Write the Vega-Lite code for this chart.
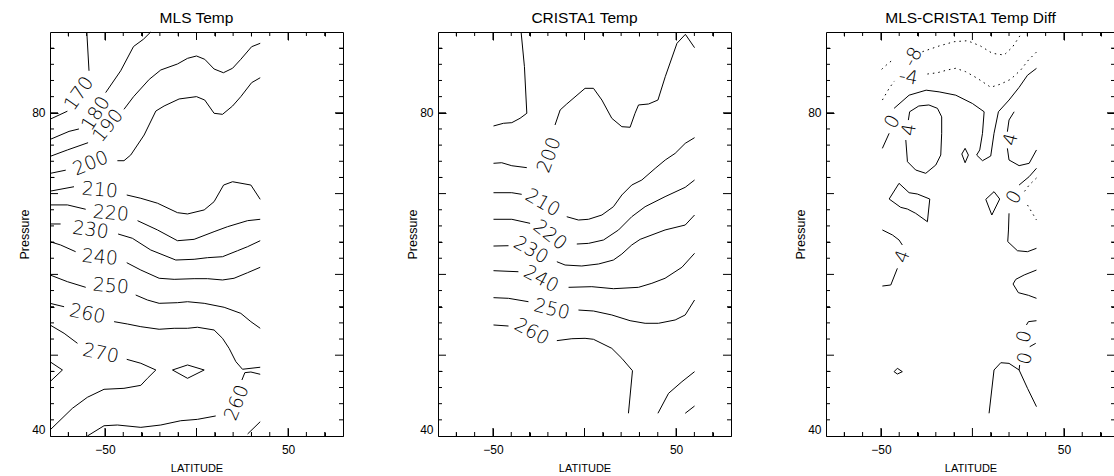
{
"$schema": "https://vega.github.io/schema/vega-lite/v6.json",
"autosize": {"type": "pad"},
"padding": {"left": 18, "top": 10, "right": 0, "bottom": 0},
"background": "white",
"bounds": "flush",
"spacing": 95,
"config": {
  "view": {"stroke": "black", "strokeWidth": 1},
  "font": "Liberation Sans",
  "title": {"font": "Liberation Sans", "fontSize": 15.5, "fontWeight": "normal", "color": "black", "offset": 4, "anchor": "middle", "frame": "group"},
  "axis": {"grid": false, "domain": false, "ticks": false, "labelOverlap": false, "gridColor": "black", "gridOpacity": 1, "gridWidth": 1, "labelFont": "Liberation Sans", "labelFontSize": 12, "labelColor": "black", "titleFont": "Liberation Sans", "titleFontWeight": "normal", "titleColor": "black"},
  "rule": {"color": "black", "strokeWidth": 1, "opacity": 1}
},
"datasets": {
  "xmajor": [{"v":-50},{"v":0},{"v":50}],
  "xminor": [{"v":-70},{"v":-60},{"v":-40},{"v":-30},{"v":-20},{"v":-10},{"v":10},{"v":20},{"v":30},{"v":40},{"v":60},{"v":70}],
  "ymajor": [{"v":50},{"v":60},{"v":70},{"v":80}],
  "yminor": [{"v":42},{"v":44},{"v":46},{"v":48},{"v":52},{"v":54},{"v":56},{"v":58},{"v":62},{"v":64},{"v":66},{"v":68},{"v":72},{"v":74},{"v":76},{"v":78},{"v":82},{"v":84},{"v":86},{"v":88}],
  "mls": [
    {"seg":"a","lat":-80,"p":79.2},{"seg":"a","lat":-70.5,"p":80.2},
    {"seg":"b","lat":-58.7,"p":85.2},{"seg":"b","lat":-59.9,"p":90},
    {"seg":"c","lat":-80,"p":76.7},{"seg":"c","lat":-69.6,"p":77.7},{"seg":"c","lat":-64.2,"p":78.0},
    {"seg":"d","lat":-49.6,"p":82.5},{"seg":"d","lat":-41.4,"p":85.2},{"seg":"d","lat":-34.4,"p":88.2},{"seg":"d","lat":-29.0,"p":89.1},{"seg":"d","lat":-25.0,"p":90},
    {"seg":"e","lat":-80,"p":74.6},{"seg":"e","lat":-70.5,"p":75.4},{"seg":"e","lat":-59.2,"p":76.3},
    {"seg":"f","lat":-39.6,"p":80.43},{"seg":"f","lat":-34.4,"p":81.99},{"seg":"f","lat":-25.8,"p":84.14},{"seg":"f","lat":-19.5,"p":85.3},{"seg":"f","lat":-10.4,"p":86.04},{"seg":"f","lat":-4.9,"p":86.74},{"seg":"f","lat":0,"p":87.03},{"seg":"f","lat":4.5,"p":86.62},{"seg":"f","lat":9.6,"p":85.42},{"seg":"f","lat":14.7,"p":84.96},{"seg":"f","lat":19.7,"p":85.51},{"seg":"f","lat":24.2,"p":86.62},{"seg":"f","lat":30.1,"p":88.18},{"seg":"f","lat":34.8,"p":88.6},
    {"seg":"g","lat":-80,"p":72.5},{"seg":"g","lat":-71.4,"p":72.9},
    {"seg":"h","lat":-43.2,"p":74.07},{"seg":"h","lat":-39.6,"p":74.07},{"seg":"h","lat":-35.9,"p":74.78},{"seg":"h","lat":-28.6,"p":77.25},{"seg":"h","lat":-22.2,"p":80.22},{"seg":"h","lat":-17.7,"p":80.84},{"seg":"h","lat":-9.5,"p":81.71},{"seg":"h","lat":0,"p":82.0},{"seg":"h","lat":4.5,"p":81.58},{"seg":"h","lat":9.6,"p":79.94},{"seg":"h","lat":14.2,"p":79.81},{"seg":"h","lat":19.7,"p":80.84},{"seg":"h","lat":24.2,"p":82.0},{"seg":"h","lat":30.1,"p":83.73},{"seg":"h","lat":34.8,"p":84.34},
    {"seg":"i","lat":-80,"p":70.3},{"seg":"i","lat":-66.9,"p":70.85},
    {"seg":"j","lat":-38.1,"p":69.83},{"seg":"j","lat":-30.4,"p":69.42},{"seg":"j","lat":-21.3,"p":68.81},{"seg":"j","lat":-10.4,"p":67.64},{"seg":"j","lat":-4.9,"p":67.48},{"seg":"j","lat":4.2,"p":67.98},{"seg":"j","lat":9.6,"p":69.0},{"seg":"j","lat":14.8,"p":71.06},{"seg":"j","lat":19.7,"p":71.47},{"seg":"j","lat":29.7,"p":71.06},{"seg":"j","lat":34.8,"p":69.29},
    {"seg":"k","lat":-80,"p":68.6},{"seg":"k","lat":-70.5,"p":68.6},{"seg":"k","lat":-60.5,"p":68.06},
    {"seg":"l","lat":-32.2,"p":66.65},{"seg":"l","lat":-21.3,"p":65.5},{"seg":"l","lat":-10.4,"p":64.17},{"seg":"l","lat":-1.3,"p":64.34},{"seg":"l","lat":9.6,"p":65.29},{"seg":"l","lat":16.9,"p":65.9},{"seg":"l","lat":27.9,"p":66.65},{"seg":"l","lat":34.8,"p":66.82},
    {"seg":"m","lat":-80,"p":66.24},{"seg":"m","lat":-74.2,"p":66.24},
    {"seg":"n","lat":-42.8,"p":65.0},{"seg":"n","lat":-35.0,"p":64.47},{"seg":"n","lat":-25.0,"p":63.02},{"seg":"n","lat":-11.3,"p":61.78},{"seg":"n","lat":-1.3,"p":61.87},{"seg":"n","lat":6.0,"p":62.07},{"seg":"n","lat":14.2,"p":62.19},{"seg":"n","lat":22.4,"p":62.93},{"seg":"n","lat":27.9,"p":63.43},{"seg":"n","lat":34.8,"p":64.17},
    {"seg":"o","lat":-80,"p":64.05},{"seg":"o","lat":-74.2,"p":63.64},{"seg":"o","lat":-66.0,"p":62.81},
    {"seg":"q","lat":-38.1,"p":61.45},{"seg":"q","lat":-30.4,"p":60.54},{"seg":"q","lat":-20.4,"p":59.52},{"seg":"q","lat":-12.2,"p":59.39},{"seg":"q","lat":-1.3,"p":59.47},{"seg":"q","lat":6.0,"p":59.47},{"seg":"q","lat":14.2,"p":59.31},{"seg":"q","lat":20.5,"p":59.52},{"seg":"q","lat":27.9,"p":60.21},{"seg":"q","lat":34.8,"p":60.88},
    {"seg":"r","lat":-80,"p":59.93},{"seg":"r","lat":-70.5,"p":59.1},{"seg":"r","lat":-60.5,"p":58.4},
    {"seg":"t","lat":-33.2,"p":57.45},{"seg":"t","lat":-26.8,"p":56.83},{"seg":"t","lat":-20.4,"p":56.42},{"seg":"t","lat":-10.4,"p":56.5},{"seg":"t","lat":-4.9,"p":56.62},{"seg":"t","lat":4.2,"p":56.42},{"seg":"t","lat":15.1,"p":55.93},{"seg":"t","lat":24.2,"p":55.18},{"seg":"t","lat":29.7,"p":54.15},{"seg":"t","lat":34.8,"p":53.33},
    {"seg":"u","lat":-80,"p":56.42},{"seg":"u","lat":-72.3,"p":56.0},
    {"seg":"v","lat":-45.0,"p":54.15},{"seg":"v","lat":-37.7,"p":53.86},{"seg":"v","lat":-30.4,"p":53.53},{"seg":"v","lat":-20.4,"p":53.21},{"seg":"v","lat":-12.2,"p":53.33},{"seg":"v","lat":-4.9,"p":53.33},{"seg":"v","lat":0.5,"p":53.46},{"seg":"v","lat":9.6,"p":53.12},{"seg":"v","lat":14.2,"p":52.09},{"seg":"v","lat":17.8,"p":50.85},{"seg":"v","lat":21.5,"p":49.2},{"seg":"v","lat":25.1,"p":48.26},{"seg":"v","lat":34.8,"p":48.51},
    {"seg":"w","lat":-80,"p":53.74},{"seg":"w","lat":-72.3,"p":52.71},{"seg":"w","lat":-65.0,"p":51.47},
    {"seg":"x","lat":-38.1,"p":49.49},{"seg":"x","lat":-30.4,"p":49.0},{"seg":"x","lat":-22.2,"p":48.17},{"seg":"x","lat":-26.8,"p":47.14},{"seg":"x","lat":-30.4,"p":46.27},{"seg":"x","lat":-39.6,"p":45.9},{"seg":"x","lat":-50.5,"p":45.78},{"seg":"x","lat":-59.6,"p":44.79},{"seg":"x","lat":-67.8,"p":43.42},{"seg":"x","lat":-80,"p":40.74},
    {"seg":"y","lat":-80,"p":49.19},{"seg":"y","lat":-73.2,"p":48.17},{"seg":"y","lat":-80,"p":46.72},
    {"seg":"z","lat":-13.1,"p":48.17},{"seg":"z","lat":-4.9,"p":48.79},{"seg":"z","lat":4.2,"p":48.17},{"seg":"z","lat":-4.9,"p":47.14},{"seg":"z","lat":-13.1,"p":48.17},
    {"seg":"a2","lat":-59.6,"p":40.0},{"seg":"a2","lat":-50.5,"p":41.27},{"seg":"a2","lat":-43.2,"p":41.36},{"seg":"a2","lat":-30.4,"p":41.07},{"seg":"a2","lat":-19.5,"p":41.36},{"seg":"a2","lat":-8.6,"p":41.89},{"seg":"a2","lat":0.5,"p":42.06},{"seg":"a2","lat":10.5,"p":42.48},
    {"seg":"b2","lat":24.8,"p":46.93},{"seg":"b2","lat":26.4,"p":47.84},{"seg":"b2","lat":29.7,"p":47.92},{"seg":"b2","lat":34.8,"p":47.64},
    {"seg":"c2","lat":27.9,"p":40.25},{"seg":"c2","lat":34.8,"p":41.77}
  ],
  "mlsLabels": [
    {"label":"170","lat":-64.2,"p":82.4,"rot":-55},
    {"label":"180","lat":-55.0,"p":79.9,"rot":-57},
    {"label":"190","lat":-48.3,"p":78.4,"rot":-51},
    {"label":"200","lat":-57.8,"p":73.75,"rot":-22},
    {"label":"210","lat":-52.8,"p":70.44,"rot":5},
    {"label":"220","lat":-46.8,"p":67.56,"rot":5},
    {"label":"230","lat":-57.8,"p":65.5,"rot":8},
    {"label":"240","lat":-52.8,"p":62.11,"rot":5},
    {"label":"250","lat":-46.8,"p":58.56,"rot":5},
    {"label":"260","lat":-59.6,"p":55.1,"rot":12},
    {"label":"270","lat":-52.3,"p":50.23,"rot":12},
    {"label":"260","lat":22.0,"p":44.12,"rot":-68}
  ],
  "crista": [
    {"seg":"a","lat":-49.7,"p":78.37},{"seg":"a","lat":-44.3,"p":78.7},{"seg":"a","lat":-39.7,"p":78.78},{"seg":"a","lat":-35.2,"p":79.32},{"seg":"a","lat":-31.5,"p":79.94},{"seg":"a","lat":-32.8,"p":85.71},{"seg":"a","lat":-34.6,"p":89.96},
    {"seg":"b","lat":-49.7,"p":73.75},{"seg":"b","lat":-45.2,"p":73.82},{"seg":"b","lat":-39.7,"p":73.45},{"seg":"b","lat":-31.5,"p":73.21},
    {"seg":"c","lat":-16.1,"p":78.49},{"seg":"c","lat":-13.3,"p":80.35},{"seg":"c","lat":-9.7,"p":81.09},{"seg":"c","lat":0.3,"p":83.03},{"seg":"c","lat":4.9,"p":83.03},{"seg":"c","lat":9.5,"p":81.58},{"seg":"c","lat":14.9,"p":79.32},{"seg":"c","lat":20.4,"p":78.28},{"seg":"c","lat":24.9,"p":78.21},{"seg":"c","lat":27.6,"p":79.94},{"seg":"c","lat":29.5,"p":80.97},{"seg":"c","lat":35.0,"p":81.09},{"seg":"c","lat":40.1,"p":81.58},{"seg":"c","lat":44.1,"p":84.47},{"seg":"c","lat":50.5,"p":88.6},{"seg":"c","lat":55.1,"p":89.71},{"seg":"c","lat":60.1,"p":88.06},
    {"seg":"d","lat":-49.7,"p":70.11},{"seg":"d","lat":-39.7,"p":70.11},{"seg":"d","lat":-34.3,"p":69.91},
    {"seg":"e","lat":-9.7,"p":67.14},{"seg":"e","lat":-3.3,"p":66.73},{"seg":"e","lat":2.2,"p":66.82},{"seg":"e","lat":9.5,"p":67.35},{"seg":"e","lat":15.8,"p":68.38},{"seg":"e","lat":20.4,"p":69.83},{"seg":"e","lat":25.8,"p":71.06},{"seg":"e","lat":31.3,"p":71.68},{"seg":"e","lat":38.6,"p":73.12},{"seg":"e","lat":44.1,"p":74.16},{"seg":"e","lat":49.5,"p":74.98},{"seg":"e","lat":55.0,"p":76.22},{"seg":"e","lat":60.1,"p":76.92},
    {"seg":"f","lat":-49.7,"p":66.82},{"seg":"f","lat":-39.7,"p":66.82},{"seg":"f","lat":-29.7,"p":66.32},
    {"seg":"g","lat":-4.2,"p":63.76},{"seg":"g","lat":2.2,"p":63.84},{"seg":"g","lat":10.4,"p":64.26},{"seg":"g","lat":18.6,"p":65.5},{"seg":"g","lat":25.8,"p":67.14},{"seg":"g","lat":33.1,"p":68.38},{"seg":"g","lat":44.0,"p":69.62},{"seg":"g","lat":55.0,"p":70.78},{"seg":"g","lat":60.1,"p":71.68},
    {"seg":"h","lat":-49.7,"p":63.51},{"seg":"h","lat":-41.5,"p":63.55},
    {"seg":"i","lat":-15.1,"p":61.57},{"seg":"i","lat":-10.6,"p":61.16},{"seg":"i","lat":-1.5,"p":61.04},{"seg":"i","lat":7.7,"p":61.29},{"seg":"i","lat":15.8,"p":61.78},{"seg":"i","lat":20.4,"p":62.52},{"seg":"i","lat":25.8,"p":63.64},{"seg":"i","lat":30.4,"p":64.34},{"seg":"i","lat":44.0,"p":65.5},{"seg":"i","lat":55.0,"p":66.11},{"seg":"i","lat":60.1,"p":67.35},
    {"seg":"j","lat":-49.7,"p":60.46},{"seg":"j","lat":-36.1,"p":60.33},
    {"seg":"k","lat":-8.7,"p":58.4},{"seg":"k","lat":4.0,"p":58.48},{"seg":"k","lat":15.8,"p":58.23},{"seg":"k","lat":29.5,"p":58.4},{"seg":"k","lat":36.8,"p":58.9},{"seg":"k","lat":44.0,"p":59.52},{"seg":"k","lat":53.2,"p":60.88},{"seg":"k","lat":60.1,"p":62.61},
    {"seg":"l","lat":-49.7,"p":57.12},{"seg":"l","lat":-41.5,"p":57.04},{"seg":"l","lat":-30.6,"p":56.62},
    {"seg":"m","lat":-3.3,"p":55.59},{"seg":"m","lat":4.9,"p":55.47},{"seg":"m","lat":14.9,"p":54.98},{"seg":"m","lat":24.9,"p":54.27},{"seg":"m","lat":33.1,"p":53.95},{"seg":"m","lat":40.4,"p":53.95},{"seg":"m","lat":49.5,"p":54.36},{"seg":"m","lat":55.0,"p":54.98},{"seg":"m","lat":60.1,"p":56.83},
    {"seg":"n","lat":-49.7,"p":53.74},{"seg":"n","lat":-41.5,"p":53.61},
    {"seg":"o","lat":-15.1,"p":51.8},{"seg":"o","lat":-6.9,"p":52.04},{"seg":"o","lat":0.3,"p":52.09},{"seg":"o","lat":4.9,"p":51.97},{"seg":"o","lat":14.9,"p":50.85},{"seg":"o","lat":20.4,"p":49.61},{"seg":"o","lat":26.2,"p":48.08},{"seg":"o","lat":24.0,"p":42.81},
    {"seg":"q","lat":40.1,"p":42.81},{"seg":"q","lat":45.9,"p":45.28},{"seg":"q","lat":53.2,"p":46.72},{"seg":"q","lat":60.1,"p":47.96},
    {"seg":"r","lat":55.0,"p":42.81},{"seg":"r","lat":60.1,"p":43.71}
  ],
  "cristaLabels": [
    {"label":"200","lat":-19.3,"p":74.78,"rot":-70},
    {"label":"210","lat":-22.8,"p":68.87,"rot":30},
    {"label":"220","lat":-18.8,"p":64.88,"rot":38},
    {"label":"230","lat":-29.2,"p":63.02,"rot":30},
    {"label":"240","lat":-23.7,"p":59.43,"rot":28},
    {"label":"250","lat":-17.9,"p":55.68,"rot":14},
    {"label":"260","lat":-28.8,"p":52.91,"rot":28}
  ],
  "diff": [
    {"seg":"a","lat":-42.8,"p":80.55},{"seg":"a","lat":-34.6,"p":82.18},{"seg":"a","lat":-25.3,"p":82.8},{"seg":"a","lat":-18.2,"p":82.59},{"seg":"a","lat":-9.1,"p":82.18},{"seg":"a","lat":0,"p":81.15},{"seg":"a","lat":6.4,"p":80.13},{"seg":"a","lat":5.5,"p":77.46},{"seg":"a","lat":4.0,"p":75.4},{"seg":"a","lat":2.3,"p":74.77},{"seg":"a","lat":5.5,"p":74.07},{"seg":"a","lat":10.0,"p":74.65},{"seg":"a","lat":11.8,"p":77.46},{"seg":"a","lat":14.2,"p":80.13},{"seg":"a","lat":20.0,"p":81.58},{"seg":"a","lat":25.5,"p":83.15},{"seg":"a","lat":30.1,"p":84.65},{"seg":"a","lat":35.0,"p":85.5},
    {"seg":"b","lat":-45.5,"p":77.46},{"seg":"b","lat":-49.2,"p":75.6},
    {"seg":"c","lat":-35.0,"p":79.1},{"seg":"c","lat":-34.3,"p":80.13},{"seg":"c","lat":-29.3,"p":80.84},{"seg":"c","lat":-23.8,"p":80.97},{"seg":"c","lat":-19.1,"p":80.55},{"seg":"c","lat":-16.8,"p":79.5},{"seg":"c","lat":-16.8,"p":77.46},{"seg":"c","lat":-17.3,"p":74.77},{"seg":"c","lat":-20.0,"p":73.54},{"seg":"c","lat":-25.5,"p":72.51},{"seg":"c","lat":-31.0,"p":72.92},{"seg":"c","lat":-35.5,"p":73.95},{"seg":"c","lat":-36.4,"p":76.63},
    {"seg":"d","lat":22.8,"p":80.13},{"seg":"d","lat":20.0,"p":79.11},{"seg":"d","lat":19.1,"p":77.66},
    {"seg":"e","lat":19.1,"p":75.6},{"seg":"e","lat":20.0,"p":74.16},{"seg":"e","lat":25.5,"p":73.46},{"seg":"e","lat":31.0,"p":73.75},{"seg":"e","lat":35.0,"p":75.4},
    {"seg":"f","lat":-4.0,"p":75.6},{"seg":"f","lat":-2.2,"p":74.77},{"seg":"f","lat":-4.0,"p":73.82},{"seg":"f","lat":-5.8,"p":74.9},{"seg":"f","lat":-4.0,"p":75.6},
    {"seg":"g","lat":-40.1,"p":71.27},{"seg":"g","lat":-34.6,"p":70.11},{"seg":"g","lat":-30.1,"p":69.95},{"seg":"g","lat":-23.3,"p":69.33},{"seg":"g","lat":-24.6,"p":66.52},{"seg":"g","lat":-31.0,"p":67.56},{"seg":"g","lat":-35.5,"p":68.09},{"seg":"g","lat":-39.2,"p":68.3},{"seg":"g","lat":-45.5,"p":69.33},{"seg":"g","lat":-40.1,"p":71.27},
    {"seg":"h","lat":11.8,"p":70.24},{"seg":"h","lat":14.9,"p":69.33},{"seg":"h","lat":10.6,"p":67.35},{"seg":"h","lat":7.3,"p":69.29},{"seg":"h","lat":11.8,"p":70.24},
    {"seg":"i","lat":25.5,"p":71.06},{"seg":"i","lat":31.0,"p":72.1},{"seg":"i","lat":35.0,"p":73.13},
    {"seg":"j","lat":20.0,"p":67.56},{"seg":"j","lat":19.7,"p":65.5},{"seg":"j","lat":19.3,"p":64.06},{"seg":"j","lat":24.6,"p":62.93},{"seg":"j","lat":30.1,"p":62.81},{"seg":"j","lat":35.0,"p":63.23},
    {"seg":"k","lat":-49.2,"p":65.5},{"seg":"k","lat":-43.7,"p":64.88},{"seg":"k","lat":-40.1,"p":64.26},{"seg":"k","lat":-38.3,"p":63.64},
    {"seg":"l","lat":-41.0,"p":60.75},{"seg":"l","lat":-44.6,"p":58.69},{"seg":"l","lat":-49.2,"p":58.56},
    {"seg":"m","lat":35.0,"p":60.54},{"seg":"m","lat":28.3,"p":59.93},{"seg":"m","lat":23.7,"p":59.39},{"seg":"m","lat":22.2,"p":58.81},{"seg":"m","lat":25.1,"p":57.74},{"seg":"m","lat":30.6,"p":57.41},{"seg":"m","lat":35.0,"p":57.04},
    {"seg":"n","lat":35.0,"p":54.27},{"seg":"n","lat":30.6,"p":54.15},{"seg":"n","lat":29.5,"p":53.74},
    {"seg":"o","lat":34.6,"p":51.47},{"seg":"o","lat":31.3,"p":51.05},
    {"seg":"pp","lat":25.8,"p":48.79},{"seg":"pp","lat":25.5,"p":48.17},{"seg":"pp","lat":20.0,"p":48.99},{"seg":"pp","lat":15.5,"p":49.07},{"seg":"pp","lat":11.8,"p":48.17},{"seg":"pp","lat":9.1,"p":42.81},
    {"seg":"q","lat":25.5,"p":48.17},{"seg":"q","lat":30.1,"p":45.9},{"seg":"q","lat":35.0,"p":43.63},
    {"seg":"r","lat":-41.0,"p":48.38},{"seg":"r","lat":-38.3,"p":47.96},{"seg":"r","lat":-41.0,"p":47.67},{"seg":"r","lat":-42.8,"p":47.96},{"seg":"r","lat":-41.0,"p":48.38}
  ],
  "diffNeg": [
    {"seg":"da","lat":-49.6,"p":85.38},{"seg":"da","lat":-46.4,"p":86.04},{"seg":"da","lat":-44.1,"p":86.45},
    {"seg":"db","lat":-27.3,"p":87.56},{"seg":"db","lat":-18.2,"p":88.27},{"seg":"db","lat":-10.0,"p":88.8},{"seg":"db","lat":-2.7,"p":88.92},{"seg":"db","lat":4.4,"p":88.27},{"seg":"db","lat":10.9,"p":87.36},{"seg":"db","lat":17.3,"p":87.15},{"seg":"db","lat":21.9,"p":88.14},{"seg":"db","lat":25.5,"p":89.38},{"seg":"db","lat":27.3,"p":90},
    {"seg":"dc","lat":-49.2,"p":81.58},{"seg":"dc","lat":-45.5,"p":83.03},{"seg":"dc","lat":-42.6,"p":83.94},
    {"seg":"dd","lat":-24.6,"p":84.8},{"seg":"dd","lat":-19.1,"p":84.96},{"seg":"dd","lat":-13.7,"p":85.3},{"seg":"dd","lat":-9.1,"p":85.51},{"seg":"dd","lat":-3.7,"p":85.09},{"seg":"dd","lat":2.7,"p":84.27},{"seg":"dd","lat":10.0,"p":83.16},{"seg":"dd","lat":15.5,"p":83.56},{"seg":"dd","lat":20.9,"p":84.15},{"seg":"dd","lat":26.4,"p":85.3},{"seg":"dd","lat":30.6,"p":86.53},{"seg":"dd","lat":35.0,"p":87.52},
    {"seg":"de","lat":35.0,"p":71.93},{"seg":"de","lat":31.0,"p":71.06},{"seg":"de","lat":27.9,"p":70.1},
    {"seg":"df","lat":30.1,"p":68.59},{"seg":"df","lat":32.8,"p":67.56},{"seg":"df","lat":35.0,"p":66.73}
  ],
  "diffLabels": [
    {"label":"-8","lat":-32.5,"p":86.9,"rot":-60},
    {"label":"-4","lat":-35.0,"p":84.4,"rot":10},
    {"label":"0","lat":-43.7,"p":78.9,"rot":-60},
    {"label":"4","lat":-34.6,"p":77.9,"rot":-80},
    {"label":"4","lat":20.9,"p":76.7,"rot":-75},
    {"label":"0","lat":22.8,"p":69.54,"rot":-60},
    {"label":"4","lat":-38.3,"p":62.2,"rot":-70},
    {"label":"0","lat":28.3,"p":52.29,"rot":-75},
    {"label":"0","lat":28.8,"p":49.62,"rot":-75}
  ]
},
"hconcat": [
  {
    "title": {"text": "MLS Temp", "fontWeight": "normal"},
    "width": 293, "height": 404,
    "layer": [
      {"data": {"name": "mls"},
       "mark": {"type": "line", "color": "black", "strokeWidth": 1},
       "encoding": {
         "x": {"field": "lat", "type": "quantitative", "scale": {"domain": [-80, 80], "nice": false, "zero": false},
               "axis": {"orient": "bottom", "values": [-70,-60,-50,-40,-30,-20,-10,0,10,20,30,40,50,60,70], "labelExpr": "datum.value % 50 === 0 ? datum.label : ''", "labelOverlap": false, "grid": true, "gridDash": {"condition": {"test": "datum.value % 50 === 0", "value": [8, 388, 8, 0]}, "value": [4, 396, 4, 0]}, "labelPadding": 8, "labelFlush": false, "title": "LATITUDE", "titleFontSize": 11, "titleFontWeight": "normal", "titlePadding": 7}},
         "y": {"field": "p", "type": "quantitative", "scale": {"domain": [40, 90], "nice": false, "zero": false},
               "axis": {"orient": "left", "values": [40,42,44,46,48,50,52,54,56,58,60,62,64,66,68,70,72,74,76,78,80,82,84,86,88,90], "labelExpr": "datum.value % 10 === 0 ? datum.label : ''", "labelOverlap": false, "grid": true, "gridDash": {"condition": {"test": "datum.value % 10 === 0", "value": [8, 277, 8, 0]}, "value": [4, 285, 4, 0]}, "labelPadding": 5, "labelFlush": true, "title": "Pressure", "titleFontSize": 12.5, "titleFontWeight": "normal", "titlePadding": 0}},
         "detail": {"field": "seg"},
         "order": {"value": null}
       }},
      {"data": {"name": "mlsLabels"},
       "mark": {"type": "text", "font": "DejaVu Sans", "fontSize": 19, "fontWeight": 200, "color": "black", "align": "center", "baseline": "middle"},
       "encoding": {
         "x": {"field": "lat", "type": "quantitative"},
         "y": {"field": "p", "type": "quantitative"},
         "text": {"field": "label"},
         "angle": {"field": "rot", "type": "quantitative", "scale": null}
       }},
      {"data": {"name": "xmajor"}, "mark": "rule", "encoding": {"x": {"field": "v", "type": "quantitative"}, "y": {"datum": 40}, "y2": {"datum": 40.99}}},
      {"data": {"name": "xminor"}, "mark": "rule", "encoding": {"x": {"field": "v", "type": "quantitative"}, "y": {"datum": 40}, "y2": {"datum": 40.495}}},
      {"data": {"name": "xmajor"}, "mark": "rule", "encoding": {"x": {"field": "v", "type": "quantitative"}, "y": {"datum": 90}, "y2": {"datum": 89.01}}},
      {"data": {"name": "xminor"}, "mark": "rule", "encoding": {"x": {"field": "v", "type": "quantitative"}, "y": {"datum": 90}, "y2": {"datum": 89.505}}},
      {"data": {"name": "ymajor"}, "mark": "rule", "encoding": {"y": {"field": "v", "type": "quantitative"}, "x": {"datum": -80}, "x2": {"datum": -75.63}}},
      {"data": {"name": "yminor"}, "mark": "rule", "encoding": {"y": {"field": "v", "type": "quantitative"}, "x": {"datum": -80}, "x2": {"datum": -77.82}}},
      {"data": {"name": "ymajor"}, "mark": "rule", "encoding": {"y": {"field": "v", "type": "quantitative"}, "x": {"datum": 80}, "x2": {"datum": 75.63}}},
      {"data": {"name": "yminor"}, "mark": "rule", "encoding": {"y": {"field": "v", "type": "quantitative"}, "x": {"datum": 80}, "x2": {"datum": 77.82}}}
    ]
  },
  {
    "title": {"text": "CRISTA1 Temp", "fontWeight": "normal"},
    "width": 293, "height": 404,
    "layer": [
      {"data": {"name": "crista"},
       "mark": {"type": "line", "color": "black", "strokeWidth": 1},
       "encoding": {
         "x": {"field": "lat", "type": "quantitative", "scale": {"domain": [-80, 80], "nice": false, "zero": false},
               "axis": {"orient": "bottom", "values": [-70,-60,-50,-40,-30,-20,-10,0,10,20,30,40,50,60,70], "labelExpr": "datum.value % 50 === 0 ? datum.label : ''", "labelOverlap": false, "grid": true, "gridDash": {"condition": {"test": "datum.value % 50 === 0", "value": [8, 388, 8, 0]}, "value": [4, 396, 4, 0]}, "labelPadding": 8, "labelFlush": false, "title": "LATITUDE", "titleFontSize": 11, "titleFontWeight": "normal", "titlePadding": 7}},
         "y": {"field": "p", "type": "quantitative", "scale": {"domain": [40, 90], "nice": false, "zero": false},
               "axis": {"orient": "left", "values": [40,42,44,46,48,50,52,54,56,58,60,62,64,66,68,70,72,74,76,78,80,82,84,86,88,90], "labelExpr": "datum.value % 10 === 0 ? datum.label : ''", "labelOverlap": false, "grid": true, "gridDash": {"condition": {"test": "datum.value % 10 === 0", "value": [8, 277, 8, 0]}, "value": [4, 285, 4, 0]}, "labelPadding": 5, "labelFlush": true, "title": "Pressure", "titleFontSize": 12.5, "titleFontWeight": "normal", "titlePadding": 0}},
         "detail": {"field": "seg"},
         "order": {"value": null}
       }},
      {"data": {"name": "cristaLabels"},
       "mark": {"type": "text", "font": "DejaVu Sans", "fontSize": 19, "fontWeight": 200, "color": "black", "align": "center", "baseline": "middle"},
       "encoding": {
         "x": {"field": "lat", "type": "quantitative"},
         "y": {"field": "p", "type": "quantitative"},
         "text": {"field": "label"},
         "angle": {"field": "rot", "type": "quantitative", "scale": null}
       }},
      {"data": {"name": "xmajor"}, "mark": "rule", "encoding": {"x": {"field": "v", "type": "quantitative"}, "y": {"datum": 40}, "y2": {"datum": 40.99}}},
      {"data": {"name": "xminor"}, "mark": "rule", "encoding": {"x": {"field": "v", "type": "quantitative"}, "y": {"datum": 40}, "y2": {"datum": 40.495}}},
      {"data": {"name": "xmajor"}, "mark": "rule", "encoding": {"x": {"field": "v", "type": "quantitative"}, "y": {"datum": 90}, "y2": {"datum": 89.01}}},
      {"data": {"name": "xminor"}, "mark": "rule", "encoding": {"x": {"field": "v", "type": "quantitative"}, "y": {"datum": 90}, "y2": {"datum": 89.505}}},
      {"data": {"name": "ymajor"}, "mark": "rule", "encoding": {"y": {"field": "v", "type": "quantitative"}, "x": {"datum": -80}, "x2": {"datum": -75.63}}},
      {"data": {"name": "yminor"}, "mark": "rule", "encoding": {"y": {"field": "v", "type": "quantitative"}, "x": {"datum": -80}, "x2": {"datum": -77.82}}},
      {"data": {"name": "ymajor"}, "mark": "rule", "encoding": {"y": {"field": "v", "type": "quantitative"}, "x": {"datum": 80}, "x2": {"datum": 75.63}}},
      {"data": {"name": "yminor"}, "mark": "rule", "encoding": {"y": {"field": "v", "type": "quantitative"}, "x": {"datum": 80}, "x2": {"datum": 77.82}}}
    ]
  },
  {
    "title": {"text": "MLS-CRISTA1 Temp Diff", "fontWeight": "normal"},
    "width": 289, "height": 404,
    "layer": [
      {"data": {"name": "diff"},
       "mark": {"type": "line", "color": "black", "strokeWidth": 1},
       "encoding": {
         "x": {"field": "lat", "type": "quantitative", "scale": {"domain": [-80, 77.9], "nice": false, "zero": false},
               "axis": {"orient": "bottom", "values": [-70,-60,-50,-40,-30,-20,-10,0,10,20,30,40,50,60,70], "labelExpr": "datum.value % 50 === 0 ? datum.label : ''", "labelOverlap": false, "grid": true, "gridDash": {"condition": {"test": "datum.value % 50 === 0", "value": [8, 388, 8, 0]}, "value": [4, 396, 4, 0]}, "labelPadding": 8, "labelFlush": false, "title": "LATITUDE", "titleFontSize": 11, "titleFontWeight": "normal", "titlePadding": 7}},
         "y": {"field": "p", "type": "quantitative", "scale": {"domain": [40, 90], "nice": false, "zero": false},
               "axis": {"orient": "left", "values": [40,42,44,46,48,50,52,54,56,58,60,62,64,66,68,70,72,74,76,78,80,82,84,86,88,90], "labelExpr": "datum.value % 10 === 0 ? datum.label : ''", "labelOverlap": false, "grid": true, "gridDash": {"condition": {"test": "datum.value % 10 === 0", "value": [8, 273, 8, 0]}, "value": [4, 281, 4, 0]}, "labelPadding": 5, "labelFlush": true, "title": "Pressure", "titleFontSize": 12.5, "titleFontWeight": "normal", "titlePadding": 0}},
         "detail": {"field": "seg"},
         "order": {"value": null}
       }},
      {"data": {"name": "diffNeg"},
       "mark": {"type": "line", "color": "black", "strokeWidth": 1, "strokeDash": [1.5, 4]},
       "encoding": {
         "x": {"field": "lat", "type": "quantitative"},
         "y": {"field": "p", "type": "quantitative"},
         "detail": {"field": "seg"},
         "order": {"value": null}
       }},
      {"data": {"name": "diffLabels"},
       "mark": {"type": "text", "font": "DejaVu Sans", "fontSize": 19, "fontWeight": 200, "color": "black", "align": "center", "baseline": "middle"},
       "encoding": {
         "x": {"field": "lat", "type": "quantitative"},
         "y": {"field": "p", "type": "quantitative"},
         "text": {"field": "label"},
         "angle": {"field": "rot", "type": "quantitative", "scale": null}
       }},
      {"data": {"name": "xmajor"}, "mark": "rule", "encoding": {"x": {"field": "v", "type": "quantitative"}, "y": {"datum": 40}, "y2": {"datum": 40.99}}},
      {"data": {"name": "xminor"}, "mark": "rule", "encoding": {"x": {"field": "v", "type": "quantitative"}, "y": {"datum": 40}, "y2": {"datum": 40.495}}},
      {"data": {"name": "xmajor"}, "mark": "rule", "encoding": {"x": {"field": "v", "type": "quantitative"}, "y": {"datum": 90}, "y2": {"datum": 89.01}}},
      {"data": {"name": "xminor"}, "mark": "rule", "encoding": {"x": {"field": "v", "type": "quantitative"}, "y": {"datum": 90}, "y2": {"datum": 89.505}}},
      {"data": {"name": "ymajor"}, "mark": "rule", "encoding": {"y": {"field": "v", "type": "quantitative"}, "x": {"datum": -80}, "x2": {"datum": -75.63}}},
      {"data": {"name": "yminor"}, "mark": "rule", "encoding": {"y": {"field": "v", "type": "quantitative"}, "x": {"datum": -80}, "x2": {"datum": -77.82}}},
      {"data": {"name": "ymajor"}, "mark": "rule", "encoding": {"y": {"field": "v", "type": "quantitative"}, "x": {"datum": 77.9}, "x2": {"datum": 73.53}}},
      {"data": {"name": "yminor"}, "mark": "rule", "encoding": {"y": {"field": "v", "type": "quantitative"}, "x": {"datum": 77.9}, "x2": {"datum": 75.72}}}
    ]
  }
]
}
